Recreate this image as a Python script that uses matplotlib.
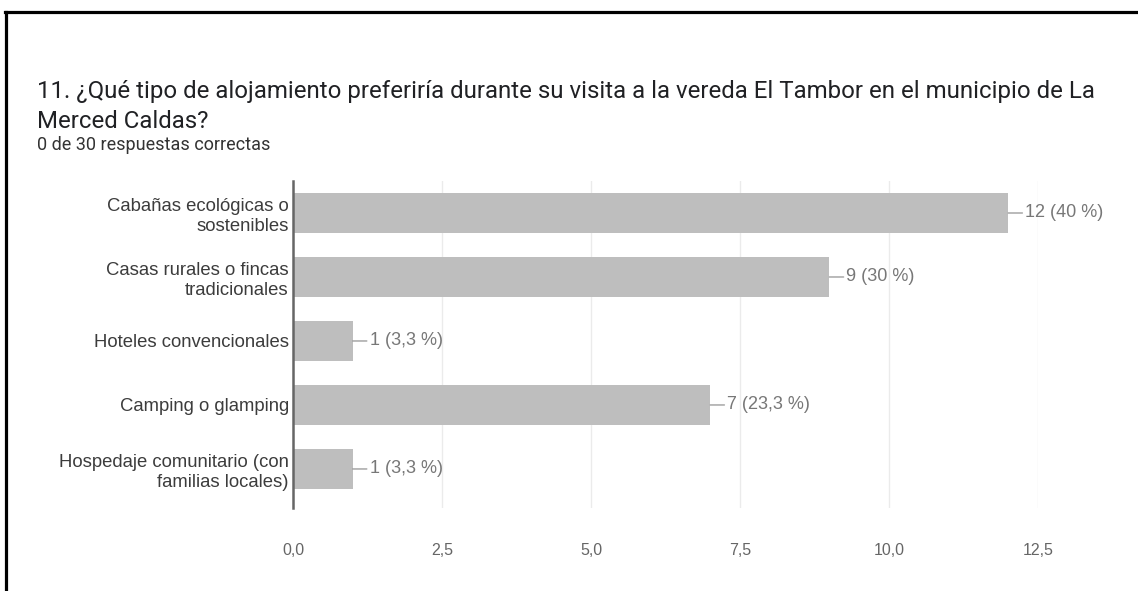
import matplotlib.pyplot as plt
from matplotlib.lines import Line2D

# datos de la pregunta 11
categorias = ["Cabañas ecológicas o\nsostenibles",
              "Casas rurales o fincas\ntradicionales",
              "Hoteles convencionales",
              "Camping o glamping",
              "Hospedaje comunitario (con\nfamilias locales)"]
valores = [12, 9, 1, 7, 1]
etiquetas = ["12 (40 %)", "9 (30 %)", "1 (3,3 %)", "7 (23,3 %)", "1 (3,3 %)"]
ticks = [0, 2.5, 5, 7.5, 10, 12.5]
tick_labels = ["0,0", "2,5", "5,0", "7,5", "10,0", "12,5"]

titulo = ("11. ¿Qué tipo de alojamiento preferiría durante su visita a la vereda El Tambor en el municipio de La\n"
          "Merced Caldas?")
subtitulo = "0 de 30 respuestas correctas"

W, H = 1138, 591
fig = plt.figure(figsize=(W / 100, H / 100), dpi=100)
fig.patch.set_facecolor("white")

# marco negro (solo izquierda y arriba)
fig.add_artist(Line2D([6 / W, 6 / W], [0, 1 - 12 / H], color="black", lw=2.3))
fig.add_artist(Line2D([5 / W, 1], [1 - 12 / H, 1 - 12 / H], color="black", lw=2.3))

# titulo y subtitulo
fig.text(37 / W, 1 - 80 / H, titulo, fontsize=17.3, family="Roboto", color="#202124",
         va="top", ha="left", linespacing=1.38)
fig.text(37 / W, 1 - 145 / H, subtitulo, fontsize=13, family="Roboto", color="#333333",
         va="center", ha="left")

# ejes en pixeles
x0, x1, y0, y1 = 293, 1038, 181, 508
ax = fig.add_axes([x0 / W, 1 - y1 / H, (x1 - x0) / W, (y1 - y0) / H])

pos = list(range(len(categorias)))
ax.barh(pos, valores, height=0.625, color="#bebebe", zorder=2)
ax.set_xlim(0, 12.5)
ax.set_ylim(4.61, -0.5)

ax.set_xticks(ticks)
ax.set_xticklabels(tick_labels, family="Liberation Sans", fontsize=11.5, color="#666666")
ax.set_yticks(pos)
ax.set_yticklabels(categorias, family="Liberation Sans", fontsize=13.3, color="#3c3c3c",
                   linespacing=1.22)
ax.tick_params(axis="both", length=0)
ax.tick_params(axis="x", pad=25)
ax.tick_params(axis="y", pad=3)

ax.grid(axis="x", color="#ebebeb", lw=1, zorder=0)
for s in ["top", "right", "bottom"]:
    ax.spines[s].set_visible(False)
ax.spines["left"].set_color("#666666")
ax.spines["left"].set_linewidth(1.8)
ax.spines["left"].set_zorder(3)

# etiquetas de valores con linea guia
for i, (v, t) in enumerate(zip(valores, etiquetas)):
    ax.annotate(t, xy=(v, i), xytext=(17, 0), textcoords="offset pixels",
                va="center", ha="left", family="Liberation Sans", fontsize=13,
                color="#777777",
                arrowprops=dict(arrowstyle="-", color="#9e9e9e", lw=1,
                                shrinkA=0, shrinkB=0))

fig.savefig("out.png", dpi=100)
